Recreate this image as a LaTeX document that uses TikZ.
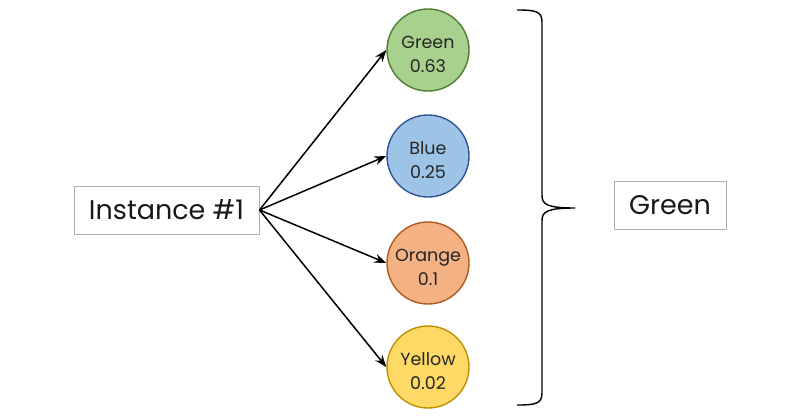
\documentclass[tikz,border=0pt]{standalone}
\usepackage{fontspec}
\setmainfont{Poppins}
\usetikzlibrary{arrows.meta}
\definecolor{gfill}{HTML}{A9D18E}\definecolor{gdraw}{HTML}{507E32}
\definecolor{bfill}{HTML}{9DC3E6}\definecolor{bdraw}{HTML}{2F5597}
\definecolor{ofill}{HTML}{F4B183}\definecolor{odraw}{HTML}{AE5A21}
\definecolor{yfill}{HTML}{FFD966}\definecolor{ydraw}{HTML}{BF9000}
\definecolor{boxgray}{HTML}{B0B0B0}
\tikzset{
  cls/.style={circle, minimum size=82pt, inner sep=0pt, line width=1.4pt},
  ctext/.style={align=center, inner sep=0pt, font=\fontsize{17.5}{24}\selectfont, text=black!85},
  lbox/.style={draw=boxgray, line width=1pt, minimum height=48pt, inner sep=0pt, font=\fontsize{27}{30}\selectfont, text=black!90},
  arr/.style={line width=1.5pt, -{Stealth[length=12pt,width=9pt]}},
}
\begin{document}
\begin{tikzpicture}[x=1pt,y=-1pt]
\useasboundingbox (0,0) rectangle (800,416);
\node[lbox, minimum width=185pt] (inst) at (166.5,210) {Instance \#1};
\node[cls, fill=gfill, draw=gdraw] (c1) at (428,50) {};
\node[cls, fill=bfill, draw=bdraw] (c2) at (428,156) {};
\node[cls, fill=ofill, draw=odraw] (c3) at (428,263) {};
\node[cls, fill=yfill, draw=ydraw] (c4) at (428,367) {};
\node[ctext] (t1) at ([yshift=-4pt]c1.center) {Green\\0.63};
\node[ctext] (t2) at ([yshift=-4pt]c2.center) {Blue\\0.25};
\node[ctext] (t3) at ([yshift=-4pt]c3.center) {Orange\\0.1};
\node[ctext] (t4) at ([yshift=-4pt]c4.center) {Yellow\\0.02};
\node[lbox, minimum width=112pt] (out) at (670,205) {Green};
\foreach \c in {c1,c2,c3,c4} \draw[arr] (inst.east) -- (\c.west);
\coordinate (btop) at (517,10);
\coordinate (btip) at (575,208);
\coordinate (bbot) at (517,405);
\draw[line width=1.4pt] (btop) .. controls (535,10) and (542,11) .. (542,22) -- (542,195)
  .. controls (542,204) and (546,208) .. (btip)
  .. controls (546,208) and (542,212) .. (542,221) -- (542,393)
  .. controls (542,404) and (535,405) .. (bbot);
\end{tikzpicture}
\end{document}
